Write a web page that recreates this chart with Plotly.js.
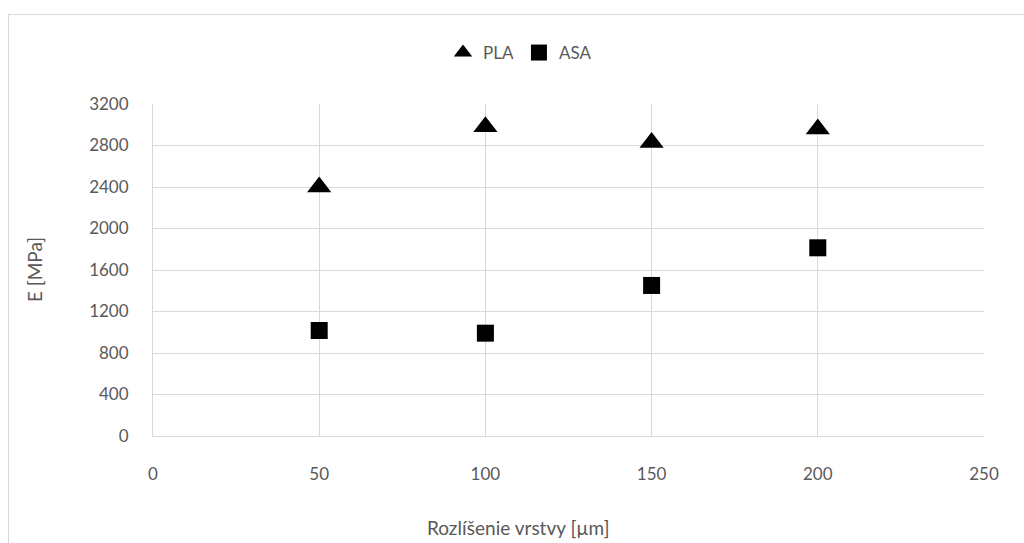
<!DOCTYPE html>
<html>
<head>
<meta charset="utf-8">
<script src="https://cdn.plot.ly/plotly-3.0.1.min.js"></script>
<style>
html,body{margin:0;padding:0;background:#fff;}
#wrap{position:relative;width:1024px;height:543px;overflow:hidden;}
#chart{position:absolute;left:0;top:0;width:1024px;height:543px;}
#frame{position:absolute;left:8px;top:14px;width:1100px;height:600px;border-left:1px solid #d9d9d9;border-top:1px solid #d9d9d9;pointer-events:none;}
</style>
</head>
<body>
<div id="wrap"><div id="chart"></div><div id="frame"></div></div>
<script>
const xValues = [50, 100, 150, 200];
const plaValues = [2400, 2980, 2830, 2960];
const asaValues = [1017, 991, 1451, 1814];
const seriesNames = ["PLA", "ASA"];
const xTicks = [0, 50, 100, 150, 200, 250];
const yTicks = [0, 400, 800, 1200, 1600, 2000, 2400, 2800, 3200];
const xTitle = "Rozlíšenie vrstvy [µm]";
const yTitle = "E [MPa]";

const font = "Lato, 'Open Sans', sans-serif";
const tickFont = {family: font, size: 17, color: "#595959"};
const titleFont = {family: font, size: 19, color: "#595959"};
const traces = [
  {x: xValues, y: plaValues, name: seriesNames[0], type: "scatter", mode: "markers",
   marker: {symbol: "triangle-up", size: 21, color: "#000000"}},
  {x: xValues, y: asaValues, name: seriesNames[1], type: "scatter", mode: "markers",
   marker: {symbol: "square", size: 17, color: "#000000"}}
];
const layout = {
  width: 1024, height: 543,
  margin: {l: 153, r: 40, t: 104, b: 107},
  paper_bgcolor: "#ffffff", plot_bgcolor: "#ffffff",
  font: tickFont,
  showlegend: true,
  legend: {orientation: "h", x: (520 - 153) / 831, xanchor: "center", y: 1 + (104 - 53) / 332, yanchor: "middle",
           font: tickFont, itemwidth: 30, tracegroupgap: 0},
  xaxis: {range: [0, 250], tickvals: xTicks, ticktext: xTicks.map(String),
          showgrid: true, gridcolor: "#d9d9d9", gridwidth: 1,
          zeroline: false, showline: true, linecolor: "#d9d9d9", mirror: false,
          ticks: "", ticklabelstandoff: 23, fixedrange: true, tickfont: tickFont},
  yaxis: {range: [0, 3200], tickvals: yTicks, ticktext: yTicks.map(String),
          showgrid: true, gridcolor: "#d9d9d9", gridwidth: 1,
          zeroline: false, showline: true, linecolor: "#d9d9d9",
          ticks: "", ticklabelstandoff: 20, fixedrange: true, tickfont: tickFont},
  annotations: [
    {text: xTitle, xref: "paper", yref: "paper", x: (518 - 153) / 831, y: -(527 - 436) / 332,
     xanchor: "center", yanchor: "middle", showarrow: false, font: titleFont},
    {text: yTitle, xref: "paper", yref: "paper", x: -(153 - 34) / 831, y: (436 - 270) / 332,
     xanchor: "center", yanchor: "middle", showarrow: false, textangle: -90, font: titleFont}
  ]
};
Plotly.newPlot("chart", traces, layout, {displayModeBar: false, staticPlot: true});
</script>
</body>
</html>
